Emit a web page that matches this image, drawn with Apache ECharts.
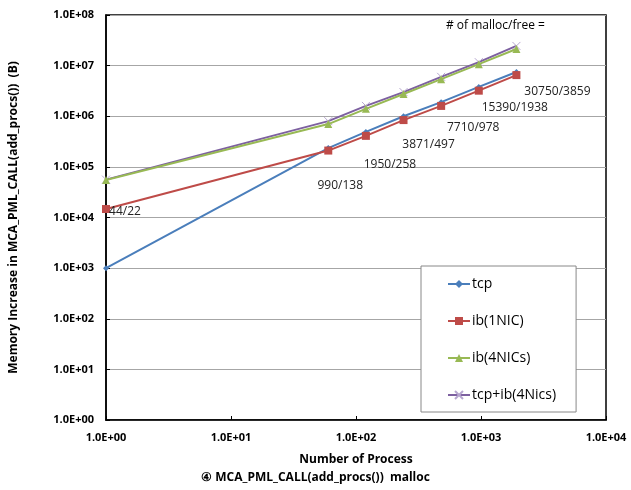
<!DOCTYPE html>
<html>
<head>
<meta charset="utf-8">
<script src="https://cdn.jsdelivr.net/npm/echarts@6/dist/echarts.min.js"></script>
<style>
  html, body { margin: 0; padding: 0; background: #fff; }
  #chart { width: 631px; height: 490px; }
</style>
</head>
<body>
<div id="chart"></div>
<script>
const procs = [1, 60, 120, 240, 480, 960, 1920];
const tcp = [1000, 235000, 490000, 1000000, 1900000, 3800000, 7500000];
const ib1 = [14700, 210000, 410000, 840000, 1600000, 3200000, 6500000];
const ib4 = [55000, 700000, 1400000, 2750000, 5400000, 10700000, 21300000];
const tcpIb4 = [56000, 800000, 1600000, 3000000, 6000000, 11700000, 24500000];
const mallocLabels = ['44/22', '990/138', '1950/258', '3871/497', '7710/978', '15390/1938', '30750/3859'];
const labelOffsets = [[19, 3], [12, 35], [24, 29], [25, 24], [32, 22], [36, 17], [41, 16]];

const font = 'Open Sans';
const expFmt = v => {
  const e = Math.round(Math.log10(v));
  return '1.0E+' + String(e).padStart(2, '0');
};
const pairs = ys => procs.map((x, i) => [x, ys[i]]);

const chart = echarts.init(document.getElementById('chart'));
chart.setOption({
  animation: false,
  textStyle: { fontFamily: font },
  grid: { left: 106, right: 25, top: 15, bottom: 70, show: true, borderColor: '#000', borderWidth: 1.5 },
  legend: {
    orient: 'vertical',
    left: 421, top: 266, width: 175, height: 147,
    padding: [11, 20, 10, 26],
    itemGap: 23,
    itemWidth: 22, itemHeight: 10,
    borderColor: '#888', borderWidth: 1, backgroundColor: '#fff',
    textStyle: { fontSize: 14, fontFamily: font, color: '#000', padding: [0, 0, 0, -3] }
  },
  graphic: [
    { type: 'text', left: 446, top: 20, style: { text: '# of malloc/free =', fontSize: 12, fontFamily: font, fill: '#000' } },
    { type: 'text', left: 'center', top: 472, style: { text: '④ MCA_PML_CALL(add_procs())  malloc', fontSize: 12, fontWeight: 'bold', fontFamily: font, fill: '#000' } }
  ],
  xAxis: {
    type: 'log', logBase: 10, min: 1, max: 10000,
    name: 'Number of Process', nameLocation: 'middle', nameGap: 34,
    nameTextStyle: { fontSize: 12, fontWeight: 'bold', color: '#000' },
    axisLine: { lineStyle: { color: '#000', width: 1.5 } },
    axisTick: { inside: true, length: 4, lineStyle: { color: '#000' } },
    minorTick: { show: false },
    splitLine: { show: false },
    axisLabel: { formatter: expFmt, fontSize: 11, fontWeight: 'bold', color: '#000', margin: 12 }
  },
  yAxis: {
    type: 'log', logBase: 10, min: 1, max: 100000000,
    name: 'Memory Increase in MCA_PML_CALL(add_procs())  (B)', nameLocation: 'middle', nameGap: 86,
    nameTextStyle: { fontSize: 12, fontWeight: 'bold', color: '#000' },
    axisLine: { show: true, lineStyle: { color: '#000', width: 1.5 } },
    axisTick: { show: true, inside: true, length: 4, lineStyle: { color: '#000' } },
    splitLine: { show: true, lineStyle: { color: '#a6a6a6', width: 1 } },
    axisLabel: { formatter: expFmt, fontSize: 11, fontWeight: 'bold', color: '#000', margin: 12 }
  },
  series: [
    {
      name: 'tcp', type: 'line', data: pairs(tcp),
      color: '#4a7ebb', symbol: 'diamond', symbolSize: 6,
      lineStyle: { width: 2 }, z: 3
    },
    {
      name: 'ib(1NIC)', type: 'line', data: pairs(ib1).map((p, i) => ({
        value: p,
        label: {
          show: true, formatter: mallocLabels[i], position: 'inside',
          offset: labelOffsets[i], fontSize: 12, color: '#222', fontFamily: font
        }
      })),
      color: '#be4b48', symbol: 'rect', symbolSize: 8,
      lineStyle: { width: 2 }, z: 4
    },
    {
      name: 'ib(4NICs)', type: 'line', data: pairs(ib4),
      color: '#98b954', symbol: 'triangle', symbolSize: 8,
      lineStyle: { width: 2 }, z: 2
    },
    {
      name: 'tcp+ib(4Nics)', type: 'line', data: pairs(tcpIb4),
      color: '#7d60a0', symbol: 'path://M0,0L10,10M10,0L0,10', symbolSize: 8,
      itemStyle: { borderColor: '#b7a7cf', borderWidth: 1 },
      lineStyle: { width: 2 }, z: 1
    }
  ]
});
</script>
</body>
</html>
